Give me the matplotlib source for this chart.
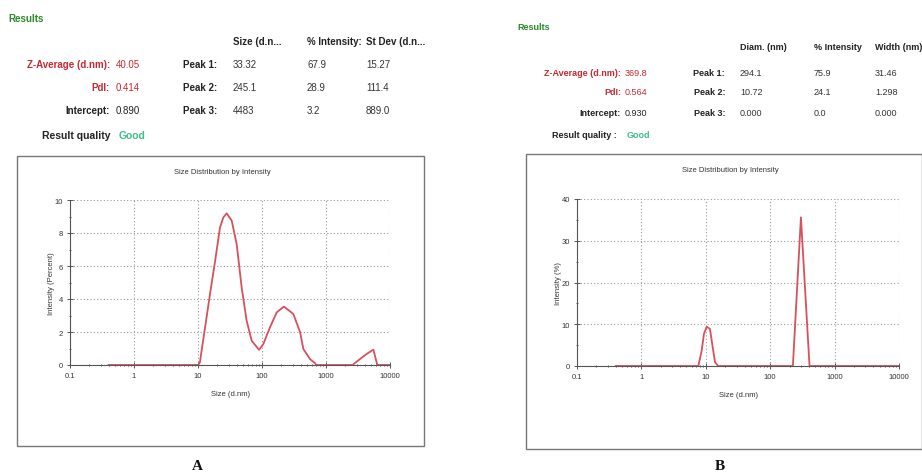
import numpy as np
import matplotlib.pyplot as plt
from matplotlib.patches import Rectangle
from matplotlib.ticker import FixedLocator, LogLocator, NullFormatter

W, H = 922, 477

# sample A: size distribution by intensity
size_a = [0.4, 10.1, 10.7, 12.9, 15.4, 18.5, 22.1, 24.9, 28.1, 33.6, 40.2, 48.1, 57.5,
          69, 90, 105, 133, 170, 220, 309, 393, 443, 562, 676, 700,
          2600, 3390, 4325, 5500, 6330, 10000]
intensity_a = [0, 0, 0.16, 2.28, 4.3, 6.3, 8.35, 8.95, 9.19, 8.75, 7.33, 4.7, 2.69,
               1.47, 0.92, 1.27, 2.28, 3.19, 3.54, 3.09, 2.0, 0.97, 0.36, 0.1, 0,
               0, 0.36, 0.67, 0.93, 0, 0]

# sample B
size_b = [0.4, 7.66, 8.63, 9.37, 10.3, 11.6, 12.8, 13.9, 15.6, 225, 300, 408, 10000]
intensity_b = [0, 0, 3.67, 7.7, 9.4, 8.9, 4.5, 0.9, 0, 0, 35.6, 0, 0]

x_ticks = [0.1, 1, 10, 100, 1000, 10000]
x_tick_labels = ["0.1", "1", "10", "100", "1000", "10000"]

# results tables
head_a = ["Size (d.n...", "% Intensity:", "St Dev (d.n..."]
peaks_a = [["33.32", "67.9", "15.27"], ["245.1", "28.9", "111.4"], ["4483", "3.2", "889.0"]]
summary_a = [("Z-Average (d.nm):", "40.05"), ("PdI:", "0.414"), ("Intercept:", "0.890")]

head_b = ["Diam. (nm)", "% Intensity", "Width (nm)"]
peaks_b = [["294.1", "75.9", "31.46"], ["10.72", "24.1", "1.298"], ["0.000", "0.0", "0.000"]]
summary_b = [("Z-Average (d.nm):", "369.8"), ("PdI:", "0.564"), ("Intercept:", "0.930")]

FONT = ["Liberation Sans Narrow", "Liberation Sans", "DejaVu Sans"]
RED = "#c62a33"
GREEN = "#2a8a2a"
GOOD = "#3cbf8a"
CURVE = "#d9505c"

fig = plt.figure(figsize=(W / 100, H / 100), dpi=100)


def put(x, y, s, size=7, color="#222222", ha="left", weight="normal", **kw):
    fig.text(x / W, 1 - y / H, s, fontsize=size, color=color, ha=ha, va="center",
             fontweight=weight, family=kw.pop("family", FONT), **kw)


def results(rows_y, lab_x, val_x, peak_x, col_x, head_y, head, peaks, summary, size):
    for (lab, val), y in zip(summary, rows_y):
        c = RED if lab != "Intercept:" else "#222222"
        put(lab_x, y, lab, size, c, ha="right", weight="bold")
        put(val_x, y, val, size, c)
    for i, y in enumerate(rows_y):
        put(peak_x, y, f"Peak {i + 1}:", size, ha="right", weight="bold")
        for cx, v in zip(col_x, peaks[i]):
            put(cx, y, v, size, "#333333")
    for cx, h in zip(col_x, head):
        put(cx, head_y, h, size, weight="bold")


def dist_axes(l, t, r, b, sizes, vals, ymax, ystep, yminor, ylabel):
    ax = fig.add_axes([l / W, 1 - b / H, (r - l) / W, (b - t) / H])
    ax.plot(sizes, vals, color=CURVE, lw=1.3)
    ax.set_xscale("log")
    ax.set_xlim(0.1, 10000)
    ax.set_ylim(0, ymax)
    ax.set_xticks(x_ticks)
    ax.set_xticklabels(x_tick_labels)
    ax.xaxis.set_minor_locator(LogLocator(subs=np.arange(2, 10)))
    ax.xaxis.set_minor_formatter(NullFormatter())
    ax.set_yticks(np.arange(0, ymax + 1, ystep))
    ax.yaxis.set_minor_locator(FixedLocator(np.arange(0, ymax, yminor)))
    ax.grid(True, which="major", color="#999999", ls=(0, (1, 2)), lw=0.8)
    for s in ["top", "right"]:
        ax.spines[s].set_visible(False)
    for s in ["left", "bottom"]:
        ax.spines[s].set_color("#555555")
        ax.spines[s].set_linewidth(0.8)
    ax.tick_params(which="major", direction="inout", length=4, width=0.7,
                   colors="#555555", labelsize=5.5, labelcolor="#333333", pad=3)
    ax.tick_params(which="minor", direction="inout", length=2, width=0.7,
                   colors="#555555")
    for lab in ax.get_xticklabels() + ax.get_yticklabels():
        lab.set_family(FONT)
    ax.set_xlabel("Size (d.nm)", fontsize=5.5, family=FONT, color="#333333", labelpad=8)
    ax.set_ylabel(ylabel, fontsize=5.5, family=FONT, color="#333333", labelpad=0)
    ax.patch.set_alpha(0)
    return ax


# panel A
put(8, 19, "Results", 7, GREEN, weight="bold")
results([65, 88, 111], 110, 116, 217, [233, 307, 366], 42,
        head_a, peaks_a, summary_a, 7)
put(110, 136, "Result quality", 7.5, ha="right", weight="bold")
put(119, 136, "Good", 7.5, GOOD, weight="bold")
fig.patches.append(Rectangle((17 / W, 1 - 447 / H), 407 / W, 290 / H,
                             transform=fig.transFigure, fill=False,
                             ec="#777777", lw=1.0))
put(222, 172, "Size Distribution by Intensity", 5.5, "#333333", ha="center")
dist_axes(70, 201, 390, 366, size_a, intensity_a, 10, 2, 1, "Intensity (Percent)")

# panel B
put(517, 28, "Results", 6.5, GREEN, weight="bold")
results([73, 93, 113], 621, 625, 725, [740, 814, 875], 48,
        head_b, peaks_b, summary_b, 6.5)
put(617, 136, "Result quality :", 6.5, ha="right", weight="bold")
put(627, 136, "Good", 6.5, GOOD, weight="bold")
fig.patches.append(Rectangle((526 / W, 1 - 450 / H), 396 / W, 295 / H,
                             transform=fig.transFigure, fill=False,
                             ec="#777777", lw=1.0))
put(730, 171, "Size Distribution by Intensity", 5.5, "#333333", ha="center")
dist_axes(577, 200, 899, 367, size_b, intensity_b, 40, 10, 5, "Intensity (%)")

put(197, 467, "A", 11, "#111111", ha="center", weight="bold",
    family=["Liberation Serif", "DejaVu Serif"])
put(720, 467, "B", 11, "#111111", ha="center", weight="bold",
    family=["Liberation Serif", "DejaVu Serif"])

fig.savefig("out.png", dpi=100)
